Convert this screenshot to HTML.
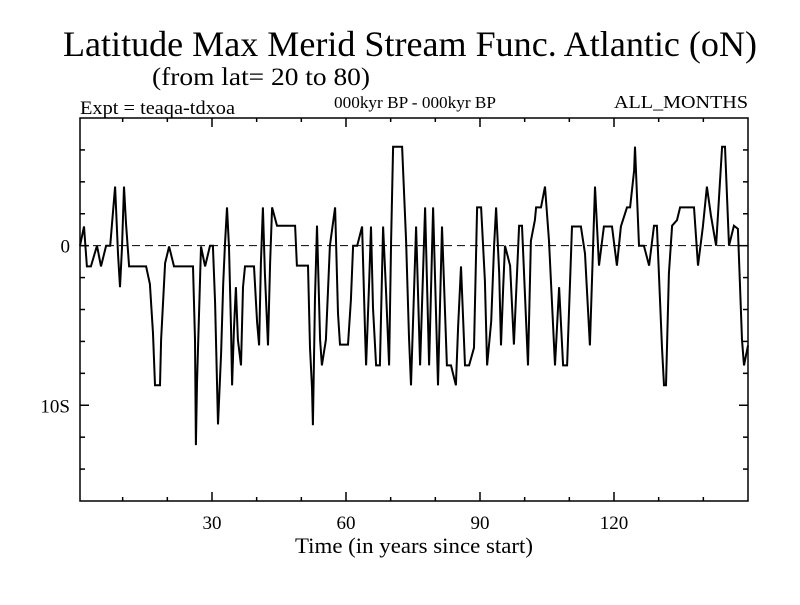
<!DOCTYPE html>
<html><head><meta charset="utf-8"><style>
html,body{margin:0;padding:0;background:#fff;}
svg text{font-family:"Liberation Serif",serif;fill:#000;}
</style></head><body>
<svg width="800" height="600" viewBox="0 0 800 600">
<text x="410" y="56" font-size="36" text-anchor="middle" textLength="694" lengthAdjust="spacingAndGlyphs">Latitude Max Merid Stream Func. Atlantic (oN)</text>
<text x="261" y="85" font-size="25" text-anchor="middle" textLength="218" lengthAdjust="spacingAndGlyphs">(from lat= 20 to 80)</text>
<text x="80" y="114" font-size="19" textLength="155" lengthAdjust="spacingAndGlyphs">Expt = teaqa-tdxoa</text>
<text x="415" y="108" font-size="17" text-anchor="middle" textLength="162" lengthAdjust="spacingAndGlyphs">000kyr BP - 000kyr BP</text>
<text x="748" y="108" font-size="18" text-anchor="end" textLength="134" lengthAdjust="spacingAndGlyphs">ALL_MONTHS</text>
<text x="414" y="553" font-size="22" text-anchor="middle" textLength="238" lengthAdjust="spacingAndGlyphs">Time (in years since start)</text>
<g id="axes"></g>
<g id="series"></g>
</svg>
<script>
const xTicks=[10,20,30,40,50,60,70,80,90,100,110,120,130,140];
const xTickLabels=["","","30","","","60","","","90","","","120","",""];
const yTicks=[6,4,2,0,-2,-4,-6,-8,-10,-12,-14];
const yTickLabels={"0":"0","-10":"10S"};
const years=[0.45,1.35,2.0,2.9,4.25,5.15,6.3,7.2,7.85,8.3,8.95,9.4,9.85,10.3,10.75,11.45,15.25,16.1,16.8,17.25,18.35,18.6,19.5,20.4,21.5,25.75,26.2,26.4,26.65,27.55,28.45,29.55,30.2,30.7,31.35,32.05,32.5,32.9,33.35,33.8,34.25,34.5,34.9,35.35,35.8,36.5,36.95,37.4,39.4,40.1,40.55,40.95,41.4,41.85,42.55,43.0,43.45,44.55,48.6,49.0,51.5,51.95,52.4,52.6,53.05,53.5,54.2,54.6,55.5,56.4,57.55,58.2,58.65,60.45,61.1,61.6,62.5,63.6,64.3,64.5,65.2,65.6,66.05,66.75,67.6,68.3,68.95,69.65,70.1,70.55,72.55,73.45,74.1,74.55,75.7,76.6,77.7,78.6,79.5,80.6,81.5,82.6,83.5,84.6,85.1,85.75,86.65,87.55,88.65,89.35,90.25,91.1,91.6,92.5,93.15,93.6,94.3,94.7,95.2,95.6,96.75,97.6,98.75,99.4,100.75,101.4,102.3,102.55,103.65,104.55,105.45,106.8,107.7,108.6,109.5,110.6,112.6,113.5,114.6,115.75,116.65,117.75,119.55,120.65,121.55,122.9,123.6,124.5,124.7,125.6,126.7,127.85,128.95,129.6,130.75,131.2,131.65,132.3,133.0,134.1,134.8,137.9,138.8,139.9,140.8,141.7,142.85,144.2,144.85,145.75,146.85,147.75,148.65,149.1,150.0];
const values=[0,1.2,-1.3,-1.3,0,-1.3,0,0,2.2,3.7,-0.5,-2.6,-0.1,3.7,1.4,-1.3,-1.3,-2.4,-5.5,-8.75,-8.75,-5.9,-1.1,-0.05,-1.3,-1.3,-5.9,-12.5,-8.6,-0.05,-1.3,0,0,-3.6,-11.2,-6.75,-2.4,0,2.4,-0.1,-5.1,-8.75,-5.3,-2.6,-5.9,-7.5,-2.6,-1.3,-1.3,-4.8,-6.25,-1.1,2.4,-1.75,-6.25,-1.1,2.4,1.25,1.25,-1.25,-1.25,-6.4,-8.9,-11.25,-3.25,1.25,-5.9,-7.5,-5.9,0,2.4,-4.25,-6.2,-6.2,-3.4,0,0,1.2,-5.75,-7.5,-2.2,1.2,-3.9,-7.5,-7.5,1.2,-2.8,-7.5,0.3,6.2,6.2,0.3,-5.75,-8.75,1.2,-7.5,2.4,-7.5,2.4,-8.75,1.2,-7.5,-7.5,-8.75,-5.1,-1.3,-7.5,-7.5,-6.4,2.4,2.4,-2.2,-7.5,-4.75,0,2.4,-1.75,-6.25,-2.6,0,-1.25,-6.2,1.25,1.25,-7.5,0.3,1.6,2.4,2.4,3.7,0.3,-7.5,-2.6,-7.5,-7.5,1.2,1.2,-0.5,-6.25,3.7,-1.25,1.2,1.2,-1.25,1.2,2.4,2.4,4.7,6.2,0,0,-1.25,1.25,1.25,-6.4,-8.75,-8.75,-1.75,1.25,1.6,2.4,2.4,-1.25,1.2,3.7,1.9,0,6.2,6.2,0,1.25,1.05,-5.9,-7.5,-6.25];

const L=80,R=748,T=118,B=501,X0=0.45,X1=150.0,Y0=-16,Y1=8;
function sx(v){return L+(v-X0)/(X1-X0)*(R-L);}
function sy(v){return B-(v-Y0)/(Y1-Y0)*(B-T);}
const NS="http://www.w3.org/2000/svg";
function mk(tag,attrs,parent){const e=document.createElementNS(NS,tag);for(const k in attrs)e.setAttribute(k,attrs[k]);parent.appendChild(e);return e;}
const ax=document.getElementById('axes');
const frame=mk('rect',{x:L,y:T,width:R-L,height:B-T,fill:'none',stroke:'#000','stroke-width':1.5},ax);


xTicks.forEach((t,i)=>{
  const x=sx(t);const len=xTickLabels[i]?9:4;
  const tb=mk('line',{x1:x,y1:B,x2:x,y2:B-len,stroke:'#000','stroke-width':1.5},ax);
  
  
  const tt=mk('line',{x1:x,y1:T,x2:x,y2:T+len,stroke:'#000','stroke-width':1.5},ax);
  
  
  if(xTickLabels[i]){
    const lb=mk('text',{x:x,y:529,'font-size':19,'text-anchor':'middle'},ax);
    lb.textContent=xTickLabels[i];
    
    
  }
});
yTicks.forEach(t=>{
  const y=sy(t);const lab=yTickLabels[String(t)];const len=lab?9:5;
  const tl=mk('line',{x1:L,y1:y,x2:L+len,y2:y,stroke:'#000','stroke-width':1.5},ax);
  
  
  const tr=mk('line',{x1:R,y1:y,x2:R-len,y2:y,stroke:'#000','stroke-width':1.5},ax);
  
  
  if(lab){
    const lb=mk('text',{x:L-10,y:y+7,'font-size':19,'text-anchor':'end'},ax);
    lb.textContent=lab;
    
    
  }
});
const zl=mk('line',{x1:L,y1:sy(0),x2:R,y2:sy(0),stroke:'#000','stroke-width':1,'stroke-dasharray':'8,5'},ax);


const sg=document.getElementById('series');
const pts=years.map((yr,i)=>sx(yr).toFixed(1)+','+sy(values[i]).toFixed(1)).join(' ');
const pl=mk('polyline',{points:pts,fill:'none',stroke:'#000','stroke-width':2,'stroke-linejoin':'miter'},sg);


</script>
</body></html>
